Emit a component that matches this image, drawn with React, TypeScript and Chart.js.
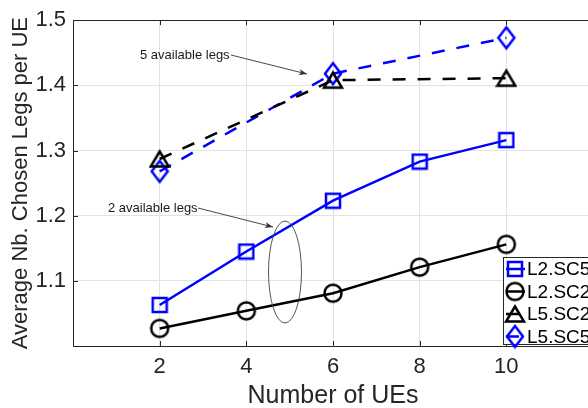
import React, { useEffect, useRef } from 'react';
import { Chart, registerables } from 'chart.js';
Chart.register(...registerables);

// ---- data ----
const xTickValues = [2, 4, 6, 8, 10];
const yTickValues = [1.1, 1.2, 1.3, 1.4, 1.5];
const uesAll = [2, 4, 6, 8, 10];
const uesL5 = [2, 6, 10];
const l2sc5 = [1.063, 1.145, 1.223, 1.283, 1.316];
const l2sc2 = [1.027, 1.054, 1.081, 1.121, 1.156];
const l5sc2 = [1.287, 1.408, 1.411];
const l5sc5 = [1.268, 1.418, 1.473];
const seriesNames = ['L2.SC5', 'L2.SC2', 'L5.SC2', 'L5.SC5'];
const xTitle = 'Number of UEs';
const yTitle = 'Average Nb. Chosen Legs per UE';
const note5 = '5 available legs';
const note2 = '2 available legs';

const FONT = '"Liberation Sans", Arial, Helvetica, sans-serif';
const AXIS = '#262626';
const BLUE = '#0000ff';
const BLACK = '#000000';

function makeMarker(shape: string, color: string): HTMLCanvasElement {
  const c = document.createElement('canvas');
  let w = 20, h = 20;
  if (shape === 'square') { w = 18; h = 18; }
  if (shape === 'circle') { w = 22; h = 22; }
  if (shape === 'triangle') { w = 22; h = 20; }
  if (shape === 'diamond') { w = 20; h = 26; }
  c.width = w; c.height = h;
  const ctx = c.getContext('2d')!;
  ctx.strokeStyle = color;
  ctx.lineWidth = 2.5;
  ctx.lineJoin = 'miter';
  ctx.beginPath();
  if (shape === 'square') {
    ctx.rect(2, 2, 14, 14);
  } else if (shape === 'circle') {
    ctx.arc(11, 11, 8.5, 0, Math.PI * 2);
  } else if (shape === 'triangle') {
    ctx.moveTo(11, 2.5); ctx.lineTo(2, 17.5); ctx.lineTo(20, 17.5); ctx.closePath();
  } else {
    ctx.moveTo(10, 2.5); ctx.lineTo(18, 13); ctx.lineTo(10, 23.5); ctx.lineTo(2, 13); ctx.closePath();
  }
  ctx.stroke();
  return c;
}

const near = (a: number, b: number) => Math.abs(a - b) < 1e-6;

export default function App() {
  const ref = useRef<HTMLCanvasElement>(null);
  useEffect(() => {
    const markers = [
      makeMarker('square', BLUE),
      makeMarker('circle', BLACK),
      makeMarker('triangle', BLACK),
      makeMarker('diamond', BLUE),
    ];
    const colors = [BLUE, BLACK, BLACK, BLUE];
    const dashes = [[], [], [13, 12], [13, 12]];

    const overlay = {
      id: 'overlay',
      afterDraw(chart: any) {
        const ctx = chart.ctx as CanvasRenderingContext2D;
        const xs = chart.scales.x;
        const ys = chart.scales.y;
        const a = chart.chartArea;
        ctx.save();
        // inward ticks
        ctx.strokeStyle = AXIS;
        ctx.lineWidth = 1;
        ctx.beginPath();
        xTickValues.forEach((v) => {
          const px = Math.round(xs.getPixelForValue(v)) + 0.5;
          ctx.moveTo(px, a.bottom); ctx.lineTo(px, a.bottom - 5);
          ctx.moveTo(px, a.top); ctx.lineTo(px, a.top + 5);
        });
        yTickValues.forEach((v) => {
          const py = Math.round(ys.getPixelForValue(v)) + 0.5;
          ctx.moveTo(a.left, py); ctx.lineTo(a.left + 5, py);
        });
        ctx.stroke();

        // annotations
        const arrow = (x1: number, y1: number, x2: number, y2: number) => {
          ctx.strokeStyle = '#333';
          ctx.fillStyle = '#333';
          ctx.lineWidth = 0.9;
          ctx.beginPath();
          ctx.moveTo(x1, y1); ctx.lineTo(x2, y2);
          ctx.stroke();
          const ang = Math.atan2(y2 - y1, x2 - x1);
          const L = 8, W = 3;
          ctx.beginPath();
          ctx.moveTo(x2, y2);
          ctx.lineTo(x2 - L * Math.cos(ang) + W * Math.sin(ang), y2 - L * Math.sin(ang) - W * Math.cos(ang));
          ctx.lineTo(x2 - L * 0.75 * Math.cos(ang), y2 - L * 0.75 * Math.sin(ang));
          ctx.lineTo(x2 - L * Math.cos(ang) - W * Math.sin(ang), y2 - L * Math.sin(ang) + W * Math.cos(ang));
          ctx.closePath();
          ctx.fill();
        };
        ctx.font = `13px ${FONT}`;
        ctx.fillStyle = '#1a1a1a';
        ctx.textAlign = 'left';
        ctx.textBaseline = 'middle';
        ctx.fillText(note5, 140, 55);
        ctx.fillText(note2, 108, 208);
        arrow(231, 55, 307, 74);
        arrow(198, 208, 273, 227);
        ctx.strokeStyle = '#444';
        ctx.lineWidth = 0.9;
        ctx.beginPath();
        ctx.ellipse(285, 272, 16.5, 51, 0, 0, Math.PI * 2);
        ctx.stroke();

        // legend
        const lx = 503.5, ly = 257.5;
        ctx.fillStyle = '#ffffff';
        ctx.fillRect(lx, ly, 200, 87);
        ctx.strokeStyle = AXIS;
        ctx.lineWidth = 1;
        ctx.strokeRect(lx, ly, 200, 87);
        seriesNames.forEach((name, i) => {
          const y = 269 + i * 22.5;
          ctx.strokeStyle = colors[i];
          ctx.lineWidth = 2.5;
          ctx.setLineDash(dashes[i]);
          ctx.beginPath();
          ctx.moveTo(506, y); ctx.lineTo(525, y);
          ctx.stroke();
          ctx.setLineDash([]);
          const m = markers[i];
          ctx.drawImage(m, 515 - m.width / 2, y - m.height / 2);
          ctx.fillStyle = '#000';
          ctx.font = `19px ${FONT}`;
          ctx.textBaseline = 'middle';
          ctx.fillText(name, 527, y + 1);
        });
        ctx.restore();
      },
    };

    const mk = (xs: number[], ys: number[]) => xs.map((x, i) => ({ x, y: ys[i] }));
    const datasets = [
      { label: seriesNames[0], data: mk(uesAll, l2sc5) },
      { label: seriesNames[1], data: mk(uesAll, l2sc2) },
      { label: seriesNames[2], data: mk(uesL5, l5sc2) },
      { label: seriesNames[3], data: mk(uesL5, l5sc5) },
    ].map((d, i) => ({
      ...d,
      borderColor: colors[i],
      backgroundColor: 'transparent',
      borderWidth: 2.5,
      borderDash: dashes[i],
      pointStyle: markers[i],
      pointRadius: 9,
      pointHoverRadius: 9,
      tension: 0,
      fill: false,
    }));

    const chart = new Chart(ref.current!, {
      type: 'line',
      data: { datasets },
      options: {
        animation: false,
        responsive: false,
        devicePixelRatio: 1,
        layout: { padding: { left: 0, top: 14, right: 27, bottom: 0 } },
        plugins: { legend: { display: false }, tooltip: { enabled: false } },
        scales: {
          x: {
            type: 'linear',
            min: 0,
            max: 12,
            afterFit: (s: any) => { s.height = 62; },
            ticks: {
              stepSize: 2,
              padding: 8,
              color: AXIS,
              font: { family: FONT, size: 22 },
              maxRotation: 0,
              autoSkip: false,
              callback: (v: any) => (xTickValues.some((t) => near(t, v)) ? String(v) : ''),
            },
            grid: {
              drawTicks: false,
              lineWidth: 1,
              color: (c: any) => (near(c.tick.value, 0) || near(c.tick.value, 12) ? 'rgba(0,0,0,0)' : '#e2e2e2'),
            },
            border: { display: true, color: AXIS, width: 1 },
            title: {
              display: true,
              text: xTitle,
              color: AXIS,
              font: { family: FONT, size: 25 },
              padding: { top: 0, bottom: -3 },
            },
          },
          y: {
            type: 'linear',
            min: 1.0,
            max: 1.5,
            afterFit: (s: any) => { s.width = 73; },
            ticks: {
              stepSize: 0.1,
              padding: 7,
              color: AXIS,
              font: { family: FONT, size: 22 },
              callback: (v: any) => (yTickValues.some((t) => near(t, v)) ? Number(v).toFixed(1) : ''),
            },
            grid: {
              drawTicks: false,
              lineWidth: 1,
              color: (c: any) =>
                near(c.tick.value, 1.5) ? AXIS : near(c.tick.value, 1.0) ? 'rgba(0,0,0,0)' : '#e2e2e2',
            },
            border: { display: true, color: AXIS, width: 1 },
            title: {
              display: true,
              text: yTitle,
              color: AXIS,
              font: { family: FONT, size: 22 },
              padding: { top: 8, bottom: 0 },
            },
          },
        },
      },
      plugins: [overlay],
    });
    return () => chart.destroy();
  }, []);

  return (
    <div style={{ position: 'absolute', left: 0, top: 0, width: 588, height: 408, overflow: 'hidden', background: '#fff' }}>
      <canvas ref={ref} width={620} height={408} style={{ width: 620, height: 408, display: 'block' }} />
    </div>
  );
}
